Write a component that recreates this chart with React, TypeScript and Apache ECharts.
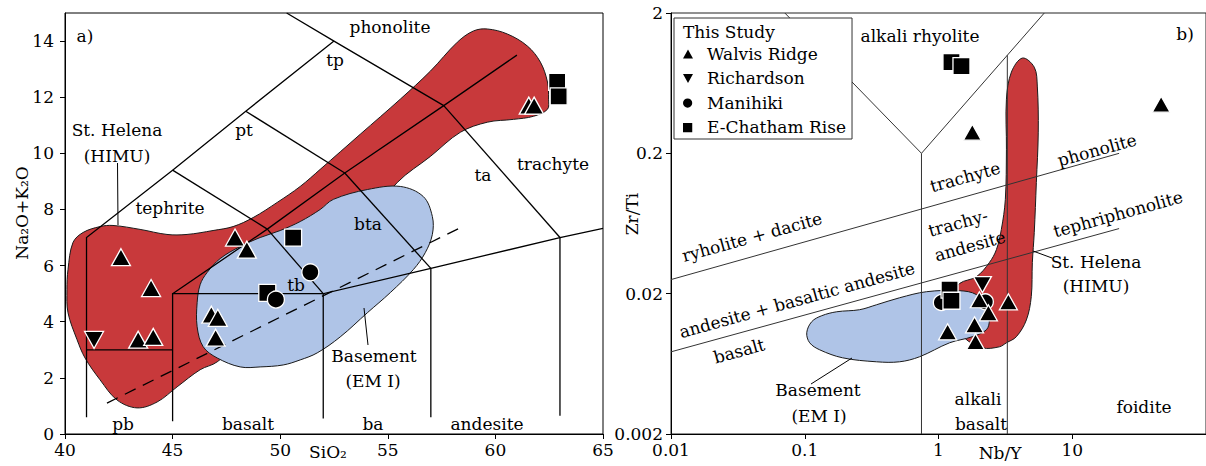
import React, { useEffect, useRef } from "react";
import * as echarts from "echarts";

const FONT = "DejaVu Serif";
const RED = "#c8393b";
const BLUE = "#afc4e7";

// ---------- Panel a: TAS (SiO2 vs Na2O+K2O) ----------
const xTicksA = [40, 45, 50, 55, 60, 65];
const yTicksA = [0, 2, 4, 6, 8, 10, 12, 14];

const walvisA = [[42.6, 6.3], [44.0, 5.2], [43.4, 3.36], [44.1, 3.46], [46.8, 4.25], [47.1, 4.14], [47.0, 3.43], [47.9, 7.0], [48.45, 6.57], [61.55, 11.7], [61.8, 11.7]];
const richardsonA = [[41.35, 3.35]];
const manihikiA = [[49.8, 4.79], [51.4, 5.76]];
const chathamA = [[50.6, 7.0], [49.4, 5.03], [62.87, 12.55], [62.94, 12.03]];

const stHelenaA = [[40.84, 7.18], [41.63, 7.39], [42.23, 7.43], [43.49, 7.29], [44.74, 7.11], [45.67, 7.11], [46.88, 7.25], [47.81, 7.39], [48.74, 7.71], [49.86, 8.25], [50.93, 8.82], [51.86, 9.43], [53.72, 10.68], [55.58, 11.93], [56.98, 12.93], [58.23, 13.96], [58.98, 14.36], [59.63, 14.43], [60.56, 14.25], [61.49, 13.82], [62.09, 13.25], [62.42, 12.54], [62.47, 11.93], [62.42, 11.57], [61.77, 11.32], [60.84, 11.21], [59.63, 11.11], [58.37, 10.75], [56.98, 9.89], [55.44, 8.96], [52.79, 6.57], [50.0, 4.43], [47.07, 2.57], [46.28, 2.29], [45.21, 1.68], [44.28, 1.14], [43.35, 0.93], [42.42, 1.21], [41.63, 1.93], [40.93, 2.71], [40.56, 3.36], [40.14, 4.32], [40.09, 5.14], [40.14, 5.86], [40.37, 6.82]];
const basementA = [[46.14, 4.68], [46.28, 5.32], [46.6, 5.75], [47.21, 6.25], [48.14, 6.68], [49.07, 7.0], [50.0, 7.25], [50.93, 7.57], [51.86, 8.0], [52.47, 8.36], [54.05, 8.71], [55.58, 8.82], [56.65, 8.46], [57.07, 7.75], [57.07, 7.11], [56.74, 6.46], [56.19, 5.86], [55.12, 5.04], [54.05, 4.32], [52.79, 3.46], [51.72, 2.89], [50.93, 2.64], [50.14, 2.46], [49.07, 2.39], [48.14, 2.39], [47.07, 2.71], [46.42, 3.11], [46.14, 3.82]];

const tasLines = [
  [[41, 0.6], [41, 7], [45, 9.4], [48.4, 11.5], [52.5, 14]],
  [[41, 3], [45, 3]],
  [[45, 0.45], [45, 5], [52, 5]],
  [[45, 5], [49.4, 7.3], [53, 9.3], [57.6, 11.7], [61, 13.5]],
  [[52, 0.55], [52, 5], [57, 5.9], [63, 7], [65, 7.33]],
  [[57, 0.6], [57, 5.9]],
  [[63, 0.65], [63, 7]],
  [[49.4, 7.3], [52, 5]],
  [[53, 9.3], [57, 5.9]],
  [[57.6, 11.7], [63, 7]],
  [[45, 9.4], [49.4, 7.3]],
  [[48.4, 11.5], [53, 9.3]],
  [[50.3, 15], [52.5, 14], [57.6, 11.7]],
];
const alkalineDivide = [[41.95, 1.1], [58.5, 7.4]];

// ---------- Panel b: Zr/Ti vs Nb/Y (log-log) ----------
const X0B = 0.01;
const X1B = 100;
const Y0B = 0.002;
const Y1B = 2;
const xTicksB = [0.01, 0.1, 1, 10];
const yTicksB = [0.002, 0.02, 0.2, 2];

const walvisB = [[1.79, 0.283], [46.2, 0.448], [2.02, 0.0181], [2.36, 0.0146], [3.33, 0.0175], [1.86, 0.012], [1.17, 0.0107], [1.89, 0.0091]];
const richardsonB = [[2.13, 0.0232]];
const manihikiB = [[1.05, 0.0173], [2.24, 0.0175]];
const chathamB = [[1.25, 0.893], [1.485, 0.836], [1.21, 0.0214], [1.25, 0.0178]];

const stHelenaB = [[4.24, 0.955], [5.2, 0.822], [5.48, 0.603], [5.57, 0.283], [5.39, 0.124], [5.2, 0.0546], [5.03, 0.0333], [4.94, 0.0191], [4.54, 0.013], [3.82, 0.00987], [3.22, 0.00893], [2.85, 0.00836], [2.13, 0.00822], [1.56, 0.0097], [1.25, 0.0135], [1.25, 0.0187], [1.435, 0.0236], [1.92, 0.0264], [2.4, 0.0333], [2.71, 0.0412], [2.95, 0.0573], [3.16, 0.0938], [3.22, 0.214], [3.22, 0.486], [3.51, 0.759]];
const basementB = [[0.1035, 0.01053], [0.1127, 0.01262], [0.134, 0.01393], [0.1734, 0.01486], [0.257, 0.01537], [0.344, 0.01667], [0.512, 0.0187], [0.813, 0.02065], [1.435, 0.021], [1.92, 0.0197], [2.28, 0.01615], [2.4, 0.01303], [2.28, 0.01106], [1.79, 0.00987], [1.21, 0.00893], [0.721, 0.0071], [0.512, 0.00654], [0.344, 0.00654], [0.192, 0.00698], [0.1294, 0.00796], [0.1089, 0.00893]];

const wfLines = [
  [[0.01, 0.0252], [22.4, 0.2]],
  [[0.01, 0.0077], [22.4, 0.0582]],
  [[0.746, 0.002], [0.746, 0.2]],
  [[0.071, 2], [0.746, 0.2], [6.18, 2]],
  [[3.27, 0.002], [3.27, 1.0]],
];

const r9 = (v: number) => Math.round(v * 1e9) / 1e9;
const fx = (v: number) => r9(Math.log10(v / X0B));
const fy = (v: number) => r9(Math.log10(v / Y0B));
const toB = (p: number[]) => [fx(p[0]), fy(p[1])];
const idA = (p: number[]) => p;

const DOWN = "path://M0,0L20,0L10,18Z";
// legend icons: the glyph in the left 10 units, an invisible point at x=19 to reserve a gap
const LEG_UP = "path://M0,9.5L5,0.5L10,9.5ZM19,0L19,0.01";
const LEG_DOWN = "path://M0,0.5L10,0.5L5,9.5ZM19,0L19,0.01";
const LEG_CIRCLE = "path://M0.5,5A4.5,4.5,0,1,1,9.5,5A4.5,4.5,0,1,1,0.5,5ZM19,0L19,0.01";
const LEG_RECT = "path://M0.5,0.5L9.5,0.5L9.5,9.5L0.5,9.5ZM19,0L19,0.01";

function field(pts: number[][], color: string, axis: number, tf: (p: number[]) => number[]) {
  return {
    type: "custom",
    xAxisIndex: axis,
    yAxisIndex: axis,
    z: 1,
    silent: true,
    data: [[0, 0]],
    renderItem: (_params: any, api: any) => ({
      type: "polygon",
      shape: { points: pts.map((p) => api.coord(tf(p))), smooth: 0.35 },
      style: { fill: color, stroke: "#1a1a1a", lineWidth: 1 },
    }),
  };
}

function lineSet(lines: number[][][], axis: number, tf: (p: number[]) => number[], style: any) {
  return {
    type: "lines",
    coordinateSystem: "cartesian2d",
    xAxisIndex: axis,
    yAxisIndex: axis,
    polyline: true,
    silent: true,
    z: 2,
    lineStyle: { opacity: 1, ...style },
    data: lines.map((l) => ({ coords: l.map(tf) })),
  };
}

function scat(name: string, data: number[][], symbol: string, size: any, axis: number, tf: (p: number[]) => number[]) {
  return {
    type: "scatter",
    name,
    xAxisIndex: axis,
    yAxisIndex: axis,
    z: 3,
    symbol,
    symbolSize: size,
    itemStyle: { color: "#000", borderColor: "#fff", borderWidth: 1.3, opacity: 1 },
    data: data.map(tf),
  };
}

function txt(text: string, x: number, y: number, opt: any = {}) {
  const align = opt.align || "center";
  return {
    type: "text",
    x,
    y,
    z: 100,
    silent: true,
    rotation: opt.rotation || 0,
    style: {
      text,
      fill: "#000",
      fontSize: opt.fontSize || 17,
      fontFamily: FONT,
      align,
      verticalAlign: "middle",
      textAlign: align,
      textVerticalAlign: "middle",
    },
  };
}

function seg(x1: number, y1: number, x2: number, y2: number) {
  return { type: "line", z: 100, silent: true, shape: { x1, y1, x2, y2 }, style: { stroke: "#000", lineWidth: 1 } };
}

const ROT = 0.27;
const axisLabelStyle = { fontFamily: FONT, fontSize: 17, color: "#000" };

function buildOption(): any {
  return {
    animation: false,
    backgroundColor: "#fff",
    textStyle: { fontFamily: FONT },
    grid: [
      { left: 65, right: 603, top: 13, bottom: 32, show: true, borderColor: "#000", borderWidth: 1, backgroundColor: "transparent" },
      { left: 671, right: -2, top: 13, bottom: 32, show: true, borderColor: "#222", borderWidth: 1, backgroundColor: "transparent" },
    ],
    xAxis: [
      {
        type: "value", gridIndex: 0, min: 40, max: 65,
        axisLine: { show: true, lineStyle: { color: "#000", width: 1 } },
        axisTick: { show: true, length: 5, customValues: xTicksA, lineStyle: { color: "#000" } },
        axisLabel: { ...axisLabelStyle, margin: 7, customValues: xTicksA },
        splitLine: { show: false },
      },
      {
        type: "value", gridIndex: 1, min: 0, max: fx(X1B),
        axisLine: { show: true, lineStyle: { color: "#000", width: 1 } },
        axisTick: { show: true, length: 5, customValues: xTicksB.map(fx), lineStyle: { color: "#000" } },
        axisLabel: {
          ...axisLabelStyle, margin: 7, customValues: xTicksB.map(fx),
          formatter: (v: number) => { const t = xTicksB.find((t) => Math.abs(fx(t) - v) < 1e-6); return t === undefined ? "" : String(t); },
        },
        splitLine: { show: false },
      },
    ],
    yAxis: [
      {
        type: "value", gridIndex: 0, min: 0, max: 15,
        axisLine: { show: true, lineStyle: { color: "#000", width: 1 } },
        axisTick: { show: true, length: 5, customValues: yTicksA, lineStyle: { color: "#000" } },
        axisLabel: { ...axisLabelStyle, margin: 11, customValues: yTicksA },
        splitLine: { show: false },
      },
      {
        type: "value", gridIndex: 1, min: 0, max: fy(Y1B),
        axisLine: { show: true, lineStyle: { color: "#000", width: 1 } },
        axisTick: { show: true, length: 5, customValues: yTicksB.map(fy), lineStyle: { color: "#000" } },
        axisLabel: {
          ...axisLabelStyle, margin: 8, customValues: yTicksB.map(fy),
          formatter: (v: number) => { const t = yTicksB.find((t) => Math.abs(fy(t) - v) < 1e-6); return t === undefined ? "" : String(t); },
        },
        splitLine: { show: false },
      },
    ],
    legend: {
      orient: "vertical",
      left: 674,
      top: 18,
      padding: [27, 6, 3, 9],
      itemWidth: 19,
      itemHeight: 10,
      itemGap: 7,
      backgroundColor: "#fff",
      borderColor: "#333",
      borderWidth: 1,
      selectedMode: false,
      textStyle: { fontFamily: FONT, fontSize: 17, color: "#000", lineHeight: 17.5 },
      itemStyle: { color: "#000", borderWidth: 0 },
      data: [
        { name: "Walvis Ridge", icon: LEG_UP },
        { name: "Richardson", icon: LEG_DOWN },
        { name: "Manihiki", icon: LEG_CIRCLE },
        { name: "E-Chatham Rise", icon: LEG_RECT },
      ],
    },
    graphic: [
      // panel a labels
      txt("a)", 85, 36),
      txt("phonolite", 390, 27),
      txt("tp", 335, 60),
      txt("pt", 244, 130),
      txt("St. Helena", 117, 130),
      txt("(HIMU)", 117, 156),
      txt("tephrite", 170, 208),
      txt("bta", 368, 224),
      txt("tb", 296, 285),
      txt("ta", 483, 175),
      txt("trachyte", 553, 164),
      txt("pb", 123, 424),
      txt("basalt", 248, 424),
      txt("ba", 373, 424),
      txt("andesite", 487, 424),
      txt("Basement", 374, 356),
      txt("(EM I)", 373, 381),
      txt("SiO₂", 328, 452),
      txt("Na₂O+K₂O", 22, 213, { rotation: Math.PI / 2 }),
      seg(117.5, 163, 118, 225),
      seg(368, 345, 364, 308),
      // panel b labels
      txt("alkali rhyolite", 920, 36),
      txt("b)", 1185, 34),
      txt("trachyte", 965, 177, { rotation: ROT }),
      txt("phonolite", 1097, 150, { rotation: ROT }),
      txt("trachy-", 958, 223, { rotation: ROT }),
      txt("andesite", 970, 246, { rotation: ROT }),
      txt("tephriphonolite", 1118, 214, { rotation: ROT }),
      txt("ryholite + dacite", 752, 237, { rotation: ROT }),
      txt("andesite + basaltic andesite", 797, 300, { rotation: ROT }),
      txt("basalt", 739, 351, { rotation: ROT }),
      txt("St. Helena", 1096, 262),
      txt("(HIMU)", 1096, 286),
      txt("Basement", 818, 390),
      txt("(EM I)", 819, 416),
      txt("alkali", 978, 399),
      txt("basalt", 981, 424),
      txt("foidite", 1144, 407),
      txt("Nb/Y", 1000, 453),
      txt("Zr/Ti", 632, 214, { rotation: Math.PI / 2 }),
      txt("This Study", 683, 32, { align: "left" }),
      seg(1033, 251, 1052, 258),
      seg(852, 358, 811, 384),
    ],
    series: [
      field(stHelenaA, RED, 0, idA),
      field(basementA, BLUE, 0, idA),
      lineSet(tasLines, 0, idA, { color: "#000", width: 1.3 }),
      lineSet([alkalineDivide], 0, idA, { color: "#000", width: 1.3, type: [12, 8] }),
      field(stHelenaB, RED, 1, toB),
      field(basementB, BLUE, 1, toB),
      lineSet(wfLines, 1, toB, { color: "#333", width: 1 }),
      scat("Walvis Ridge", walvisA, "triangle", [19, 17], 0, idA),
      scat("Richardson", richardsonA, DOWN, [19, 17], 0, idA),
      scat("E-Chatham Rise", chathamA, "rect", 17, 0, idA),
      scat("Manihiki", manihikiA, "circle", 17, 0, idA),
      scat("Manihiki", manihikiB, "circle", 16, 1, toB),
      scat("E-Chatham Rise", chathamB, "rect", 17, 1, toB),
      scat("Walvis Ridge", walvisB, "triangle", [18, 16], 1, toB),
      scat("Richardson", richardsonB, DOWN, [18, 16], 1, toB),
    ],
  };
}

export default function App() {
  const ref = useRef<HTMLDivElement>(null);
  useEffect(() => {
    document.body.style.margin = "0";
    const chart = echarts.init(ref.current as HTMLDivElement, undefined, { renderer: "svg" });
    chart.setOption(buildOption());
    return () => chart.dispose();
  }, []);
  return <div ref={ref} style={{ width: 1206, height: 466 }} />;
}
